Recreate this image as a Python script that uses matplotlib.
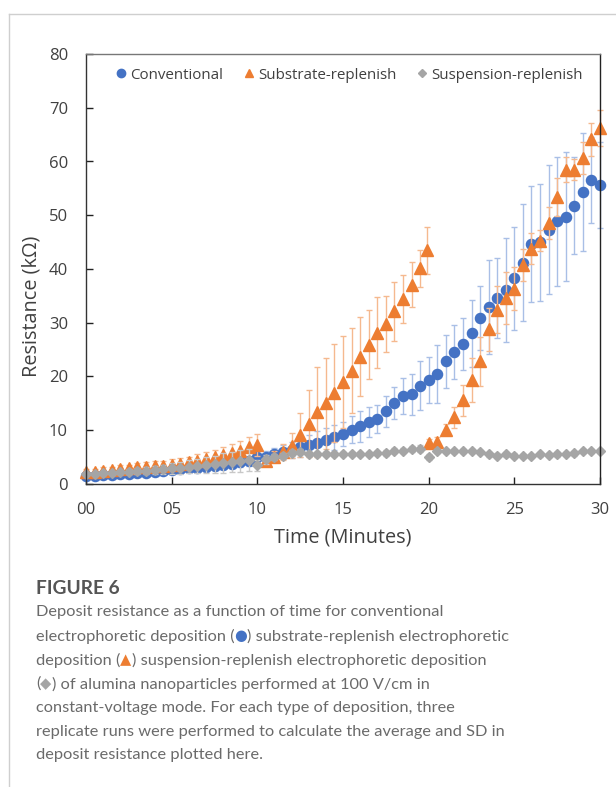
import matplotlib
matplotlib.use("Agg")
import matplotlib.pyplot as plt
from matplotlib.lines import Line2D
import numpy as np

# ---- data ----
time_min = [i * 0.5 for i in range(61)]
time_labels = ["00", "05", "10", "15", "20", "25", "30"]

conventional = [1.4, 1.5, 1.6, 1.7, 1.8, 1.9, 2.0, 2.1, 2.3, 2.4,
                2.6, 2.7, 2.9, 3.0, 3.2, 3.4, 3.6, 3.8, 4.0, 4.3,
                5.1, 5.1, 5.5, 5.9, 6.3, 6.8, 7.2, 7.6, 8.2, 8.7,
                9.3, 10.1, 10.7, 11.6, 12.1, 13.5, 15.0, 16.4, 16.7, 18.3,
                19.4, 20.5, 22.8, 24.6, 26.1, 28.0, 30.9, 32.9, 34.6, 36.1,
                38.3, 41.2, 44.6, 45.0, 47.3, 48.9, 49.7, 51.8, 54.3, 56.6,
                55.7]
conventional_sd = [0.3, 0.3, 0.3, 0.3, 0.4, 0.4, 0.4, 0.4, 0.5, 0.5,
                   0.5, 0.6, 0.6, 0.7, 0.7, 0.8, 0.8, 0.9, 0.9, 1.0,
                   1.0, 1.1, 1.2, 1.3, 1.5, 1.7, 2.0, 2.2, 2.3, 2.3,
                   2.3, 2.5, 2.8, 2.8, 2.6, 2.9, 3.0, 3.3, 3.8, 4.5,
                   4.3, 5.4, 5.0, 5.0, 4.8, 6.3, 5.9, 8.8, 7.4, 9.7,
                   9.6, 10.8, 10.8, 10.9, 12.0, 12.0, 12.0, 9.0, 11.0, 8.0,
                   8.0]

substrate_time = [i * 0.5 for i in range(40)] + [19.9] + [20.0 + i * 0.5 for i in range(21)]
substrate = [2.2, 2.3, 2.5, 2.6, 2.8, 2.9, 3.1, 3.2, 3.3, 3.4,
             3.6, 3.8, 4.0, 4.3, 4.6, 5.0, 5.4, 5.8, 6.2, 6.8,
             7.3, 4.3, 5.1, 6.0, 7.1, 9.2, 11.2, 13.4, 15.0, 17.0,
             19.0, 21.1, 23.7, 25.9, 28.1, 29.7, 32.1, 34.4, 37.1, 40.1,
             43.5,
             7.6, 7.9, 10.1, 12.4, 15.6, 19.4, 22.8, 28.8, 32.4, 34.6,
             36.3, 40.7, 43.8, 45.3, 48.6, 53.4, 58.5, 58.5, 60.7, 64.1,
             66.2]
substrate_sd = [0.5, 0.5, 0.6, 0.6, 0.7, 0.7, 0.8, 0.8, 0.9, 0.9,
                1.0, 1.0, 1.1, 1.2, 1.3, 1.4, 1.5, 1.6, 1.8, 2.0,
                2.0, 0.8, 1.0, 1.5, 2.3, 4.1, 6.2, 8.3, 8.5, 9.1,
                8.5, 7.9, 7.4, 6.4, 6.6, 5.2, 5.5, 4.5, 4.2, 3.5,
                4.4,
                0.8, 0.8, 1.0, 2.0, 2.9, 4.1, 4.5, 4.0, 4.4, 4.8,
                4.0, 3.0, 2.9, 2.0, 3.0, 3.5, 2.4, 2.0, 3.0, 3.1,
                3.4]

suspension = [1.8, 1.9, 2.0, 2.1, 2.2, 2.3, 2.4, 2.5, 2.6, 2.7,
              2.9, 3.0, 3.2, 3.3, 3.5, 3.7, 3.9, 4.1, 4.3, 4.5,
              3.5, 4.6, 5.0, 5.3, 5.8, 6.0, 5.6, 5.6, 5.6, 5.6,
              5.6, 5.6, 5.6, 5.6, 5.8, 5.8, 6.2, 6.2, 6.5, 6.6,
              5.0, 6.1, 6.1, 6.1, 6.2, 6.2, 5.9, 5.5, 5.3, 5.5,
              5.3, 5.2, 5.2, 5.5, 5.4, 5.5, 5.6, 5.7, 6.1, 6.1,
              6.2]
suspension_sd = [0.2, 0.2, 0.3, 0.3, 0.4, 0.5, 0.6, 0.7, 0.8, 0.9,
                 1.0, 1.1, 1.2, 1.3, 1.5, 1.6, 1.8, 1.9, 2.0, 2.0,
                 1.0, 0.8, 0.6, 0.5, 0.5, 0.5, 0.4, 0.4, 0.4, 0.4,
                 0.4, 0.4, 0.4, 0.4, 0.4, 0.5, 0.5, 0.5, 0.6, 0.6,
                 0.6, 0.4, 0.4, 0.4, 0.4, 0.4, 0.4, 0.4, 0.4, 0.4,
                 0.4, 0.4, 0.4, 0.4, 0.4, 0.4, 0.4, 0.4, 0.4, 0.4,
                 0.4]

series_names = ["Conventional", "Substrate-replenish", "Suspension-replenish"]

# ---- style ----
BLUE, ORANGE, GRAY = "#4472C4", "#ED7D31", "#A5A5A5"
BLUE_E, ORANGE_E, GRAY_E = "#A9BFE6", "#F5B98F", "#C8C8C8"
TXT = "#404040"
FONT = ["Open Sans", "DejaVu Sans"]
CAPFONT = ["Lato", "DejaVu Sans"]
SYMFONT = ["DejaVu Sans"]
plt.rcParams["font.family"] = FONT

W, H = 616, 787
fig = plt.figure(figsize=(W / 100, H / 100), dpi=100)
ax = fig.add_axes([86 / W, 1 - 484 / H, (600 - 86) / W, (484 - 54) / H])

ax.errorbar(time_min, conventional, yerr=conventional_sd, fmt="o", color=BLUE,
            ms=7.3, mec=BLUE, ecolor=BLUE_E, elinewidth=1.0, capsize=2, capthick=1.0,
            zorder=3, clip_on=False)
ax.errorbar(substrate_time, substrate, yerr=substrate_sd, fmt="^", color=ORANGE,
            ms=8.0, mec=ORANGE, ecolor=ORANGE_E, elinewidth=1.0, capsize=2, capthick=1.0,
            zorder=4, clip_on=False)
ax.errorbar(time_min, suspension, yerr=suspension_sd, fmt="D", color=GRAY,
            ms=5.5, mec=GRAY, ecolor=GRAY_E, elinewidth=1.0, capsize=2, capthick=1.0,
            zorder=5, clip_on=False)

ax.set_xlim(0, 30)
ax.set_ylim(0, 80)
ax.set_xticks(range(0, 31, 5))
ax.set_xticklabels(time_labels)
ax.set_yticks(range(0, 81, 10))
ax.tick_params(direction="in", length=5, width=1, colors="#222222", labelsize=12,
               labelcolor=TXT, pad=13)
for s in ax.spines.values():
    s.set_color("#333333")
    s.set_linewidth(1.0)
    s.set_zorder(6)
ax.spines["top"].set_color("#777777")
ax.spines["right"].set_color("#222222")

ax.set_xlabel("Time (Minutes)", fontsize=14.3, color=TXT, labelpad=7)
ax.set_ylabel("Resistance (k\u03a9)", fontsize=14.3, color=TXT)
ax.yaxis.set_label_coords(-0.086, 0.414)

handles = [Line2D([], [], marker="o", ls="", color=BLUE, ms=6),
           Line2D([], [], marker="^", ls="", color=ORANGE, ms=6),
           Line2D([], [], marker="D", ls="", color=GRAY, ms=4.5)]
leg = ax.legend(handles, series_names, loc="upper center", bbox_to_anchor=(0.51, 1.0),
                ncol=3, frameon=False, fontsize=10.9, handletextpad=0.1,
                columnspacing=1.2, handlelength=1.0, borderaxespad=0.5)
for t in leg.get_texts():
    t.set_color(TXT)

# article frame lines
fig.add_artist(Line2D([9 / W, 1], [1 - 14 / H, 1 - 14 / H], color="#CFCFCF", lw=1.0))
fig.add_artist(Line2D([9 / W, 9 / W], [0, 1 - 14 / H], color="#CFCFCF", lw=1.0))

# caption
CAP = "#6A6A6A"
fig.text(36 / W, 1 - 588 / H, "FIGURE 6", fontsize=13.8, fontweight="bold", color="#555555",
         va="center", ha="left", family=CAPFONT)
caption_lines = [
    [("Deposit resistance as a function of time for conventional", CAP, CAPFONT)],
    [("electrophoretic deposition (", CAP, CAPFONT), ("\u25cf", BLUE, SYMFONT),
     (") substrate-replenish electrophoretic", CAP, CAPFONT)],
    [("deposition (", CAP, CAPFONT), ("\u25b2", ORANGE, SYMFONT),
     (") suspension-replenish electrophoretic deposition", CAP, CAPFONT)],
    [("(", CAP, CAPFONT), ("\u25c6", GRAY, SYMFONT),
     (") of alumina nanoparticles performed at 100 V/cm in", CAP, CAPFONT)],
    [("constant-voltage mode. For each type of deposition, three", CAP, CAPFONT)],
    [("replicate runs were performed to calculate the average and SD in", CAP, CAPFONT)],
    [("deposit resistance plotted here.", CAP, CAPFONT)],
]
line_y = [612, 636, 660, 684, 708, 732, 755]
renderer = fig.canvas.get_renderer()
for parts, yy in zip(caption_lines, line_y):
    xpix = 36.0
    for s, c, fam in parts:
        size = 11.8 if fam is CAPFONT else 10.5
        t = fig.text(xpix / W, 1 - yy / H, s, fontsize=size, color=c, va="center", ha="left",
                     family=fam)
        bb = t.get_window_extent(renderer=renderer)
        xpix += bb.width

fig.savefig("out.png", dpi=100)
